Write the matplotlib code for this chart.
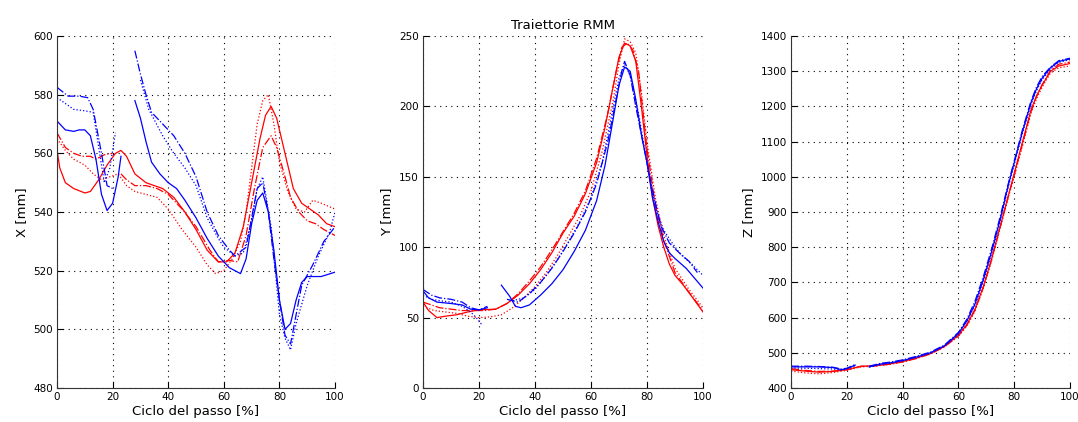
import numpy as np
import matplotlib
matplotlib.use('Agg')
import matplotlib.pyplot as plt

nan = np.nan

# ---------------------------------------------------------------------------
# Dati (ciclo del passo [%], posizione [mm])
# rs = rosso continuo, rd = rosso tratto-punto, ro = rosso punteggiato
# bs = blu continuo,   bd = blu tratto-punto,   bo = blu punteggiato
# ---------------------------------------------------------------------------
X_rs_t = [0, 1, 3, 6, 10, 12, 15, 18, 21, 23, 25, 28, 32, 38, 42, 46, 50, 54, 58, 61, 64, 67, 70, 73, 75, 77, 79, 82, 85, 88, 91, 94, 97, 100]
X_rs = [561, 555, 550, 548, 546.5, 547, 551, 556, 560, 561, 559, 553, 550, 548, 545, 540, 534, 527, 523, 523, 526, 535, 550, 565, 573, 576, 572, 560, 548, 543, 541, 539, 536, 535]
X_rd_t = [0, 3, 6, 9, 12, 14, 17, 20, 21, 23, 25, 28, 32, 36, 40, 45, 50, 55, 58, 62, 65, 68, 71, 74, 77, 79, 82, 84, 87, 90, 93, 96, 98, 100]
X_rd = [567, 562, 560, 559, 559, 558, 559.5, 560, nan, 553, 551, 549, 549, 548, 546, 541, 535, 527, 523, 523.5, 523, 532, 548, 562, 566, 562, 552, 545, 540, 537, 536, 534, 533, 532]
X_ro_t = [0, 3, 6, 10, 13, 16, 19, 22, 25, 28, 32, 36, 40, 45, 50, 54, 57, 60, 63, 66, 68, 70, 72, 74, 76, 78, 80, 83, 86, 89, 92, 95, 100]
X_ro = [565, 561, 558, 556, 553, 551, 552, 553, 549, 547, 546, 545, 541, 534, 528, 522, 519, 520, 524, 530, 540, 555, 570, 578, 580, 570, 557, 547, 541, 540, 544, 543, 541]
X_bs_t = [0, 3, 6, 8, 10, 12, 14, 16, 18, 20, 22, 23, 25, 28, 30, 32, 34, 37, 40, 43, 46, 50, 54, 58, 62, 66, 68, 70, 72, 74, 76, 78, 80, 82, 84, 86, 88, 90, 95, 100]
X_bs = [571, 568, 567.5, 568, 568, 566, 558, 546, 540.5, 543, 552, 559, nan, 578, 572, 564, 557, 553, 550, 548, 544, 538, 531, 525, 521, 519, 524, 536, 544, 546.5, 540, 527, 510, 500, 502, 510, 516, 518, 518, 519.5]
X_bd_t = [0, 2, 4, 8, 11, 13, 15, 16, 18, 20, 24, 28, 30, 32, 34, 38, 42, 46, 50, 54, 58, 62, 64, 68, 70, 72, 74, 76, 78, 80, 82, 84, 86, 88, 92, 96, 100]
X_bd = [582.5, 581, 579.5, 579.5, 579, 575, 565, 560, 549, 548, nan, 595, 587, 580, 574, 570, 566, 560, 552, 540, 532, 527, 525, 528, 538, 548, 550, 540, 524, 510, 498, 495, 505, 515, 522, 530, 535]
X_bo_t = [0, 3, 6, 10, 13, 15, 17, 19, 21, 25, 30, 33, 38, 42, 46, 50, 54, 58, 60, 64, 67, 70, 72, 74, 77, 80, 82, 84, 86, 90, 94, 98, 100]
X_bo = [579, 577, 575, 574.5, 574, 562, 550, 555, 567, nan, 585, 575, 566, 560, 555, 549, 538, 531, 528, 525, 526, 537, 548, 552, 535, 505, 497, 493, 502, 515, 525, 533, 540]

Y_rs_t = [0, 2, 5, 8, 12, 16, 20, 26, 30, 34, 38, 42, 46, 50, 54, 58, 62, 65, 68, 70, 72, 74, 76, 78, 80, 82, 84, 86, 88, 90, 93, 96, 100]
Y_rs = [61, 55, 50, 51, 52, 54, 55.5, 56, 60, 66, 74, 84, 96, 110, 122, 138, 160, 185, 215, 235, 245, 243, 232, 200, 165, 135, 115, 100, 88, 80, 73, 65, 54]
Y_rd_t = [0, 3, 6, 10, 14, 18, 22, 26, 30, 34, 38, 42, 46, 50, 54, 58, 62, 66, 69, 71, 73, 75, 77, 80, 83, 86, 90, 95, 100]
Y_rd = [61, 59, 57, 56, 55, 55, 55, 56, 60, 67, 76, 86, 98, 111, 124, 140, 163, 195, 225, 242, 245, 240, 225, 170, 130, 105, 82, 68, 55]
Y_ro_t = [0, 4, 8, 12, 16, 20, 24, 28, 32, 36, 40, 44, 48, 52, 56, 60, 64, 68, 70, 72, 74, 76, 78, 80, 83, 86, 90, 95, 100]
Y_ro = [58, 55, 54, 53, 51, 50, 50.5, 52, 57, 64, 72, 82, 94, 108, 122, 140, 168, 205, 230, 248, 246, 238, 210, 175, 135, 108, 85, 70, 57]
Y_bs_t = [0, 2, 5, 10, 14, 17, 20, 23, 25, 28, 31, 33, 35, 38, 42, 46, 50, 54, 58, 62, 65, 68, 70, 72, 74, 76, 78, 80, 82, 84, 86, 88, 90, 94, 97, 100]
Y_bs = [69, 64, 61, 60, 59, 56, 55.5, 57, nan, 73, 65, 58, 57, 59, 66, 74, 84, 97, 112, 133, 158, 192, 215, 228, 225, 205, 180, 160, 135, 118, 104, 96, 92, 85, 78, 71]
Y_bd_t = [0, 3, 6, 10, 14, 17, 20, 23, 26, 30, 34, 38, 42, 46, 50, 54, 58, 62, 66, 69, 71, 72, 74, 76, 79, 82, 85, 88, 91, 95, 98]
Y_bd = [70, 66, 64, 63, 61, 57, 55.5, 58, nan, 63, 61, 67, 75, 85, 97, 110, 125, 145, 175, 205, 225, 232, 222, 200, 170, 140, 115, 103, 97, 90, 82]
Y_bo_t = [0, 3, 6, 10, 14, 17, 19, 21, 26, 32, 36, 40, 44, 48, 52, 56, 60, 64, 67, 70, 72, 74, 77, 80, 83, 86, 89, 92, 96, 100]
Y_bo = [66, 63, 62, 61, 58, 54, 50, 45, nan, 62, 64, 70, 80, 91, 104, 118, 135, 160, 190, 220, 230, 222, 195, 160, 128, 112, 103, 95, 88, 80]

Z_rs_t = [0, 5, 10, 15, 20, 25, 30, 35, 40, 45, 50, 55, 60, 63, 66, 69, 72, 75, 78, 80, 83, 86, 88, 90, 93, 96, 100]
Z_rs = [452, 448, 445, 447, 452, 462, 463, 468, 475, 485, 498, 518, 550, 580, 625, 690, 770, 860, 950, 1010, 1100, 1190, 1230, 1260, 1300, 1315, 1322]
Z_rd_t = [0, 5, 10, 15, 20, 25, 30, 35, 40, 45, 50, 55, 60, 63, 66, 69, 72, 75, 78, 80, 83, 86, 88, 90, 93, 96, 100]
Z_rd = [455, 450, 447, 448, 452, 461, 463, 467, 474, 484, 497, 517, 548, 578, 622, 688, 768, 858, 948, 1005, 1095, 1185, 1228, 1262, 1302, 1320, 1326]
Z_ro_t = [0, 5, 10, 15, 20, 25, 30, 35, 40, 45, 50, 55, 60, 63, 66, 69, 72, 75, 78, 80, 83, 86, 88, 90, 93, 96, 100]
Z_ro = [448, 443, 440, 444, 450, 460, 462, 467, 474, 484, 497, 517, 547, 575, 620, 685, 765, 855, 945, 1000, 1090, 1180, 1222, 1255, 1295, 1310, 1315]
Z_bs_t = [0, 5, 10, 15, 18, 20, 23, 25, 28, 32, 36, 40, 45, 50, 55, 60, 63, 66, 69, 72, 75, 78, 80, 83, 86, 88, 90, 93, 96, 100]
Z_bs = [460, 460, 460, 458, 452, 455, 465, nan, 460, 468, 472, 478, 488, 500, 520, 555, 590, 640, 710, 790, 880, 980, 1040, 1130, 1210, 1250, 1280, 1310, 1328, 1335]
Z_bd_t = [0, 5, 10, 15, 18, 20, 23, 25, 28, 32, 36, 40, 45, 50, 55, 60, 63, 66, 69, 72, 75, 78, 80, 83, 86, 88, 90, 93, 96, 100]
Z_bd = [462, 462, 461, 459, 454, 456, 467, nan, 462, 470, 474, 480, 490, 502, 522, 558, 595, 648, 718, 798, 888, 985, 1045, 1135, 1215, 1255, 1285, 1312, 1330, 1337]
Z_bo_t = [0, 5, 10, 15, 18, 20, 23, 25, 28, 32, 36, 40, 45, 50, 55, 60, 63, 66, 69, 72, 75, 78, 80, 83, 86, 88, 90, 93, 96, 100]
Z_bo = [457, 456, 455, 454, 451, 454, 463, nan, 459, 466, 471, 477, 487, 499, 519, 553, 588, 636, 705, 785, 875, 975, 1035, 1125, 1205, 1245, 1276, 1306, 1325, 1333]

panels = [
    ("X [mm]", (480, 600), np.arange(480, 601, 20),
     [(X_rs_t, X_rs, 'r', '-'), (X_rd_t, X_rd, 'r', '-.'), (X_ro_t, X_ro, 'r', ':'),
      (X_bs_t, X_bs, 'b', '-'), (X_bd_t, X_bd, 'b', '-.'), (X_bo_t, X_bo, 'b', ':')]),
    ("Y [mm]", (0, 250), np.arange(0, 251, 50),
     [(Y_rs_t, Y_rs, 'r', '-'), (Y_rd_t, Y_rd, 'r', '-.'), (Y_ro_t, Y_ro, 'r', ':'),
      (Y_bs_t, Y_bs, 'b', '-'), (Y_bd_t, Y_bd, 'b', '-.'), (Y_bo_t, Y_bo, 'b', ':')]),
    ("Z [mm]", (400, 1400), np.arange(400, 1401, 100),
     [(Z_rs_t, Z_rs, 'r', '-'), (Z_rd_t, Z_rd, 'r', '-.'), (Z_ro_t, Z_ro, 'r', ':'),
      (Z_bs_t, Z_bs, 'b', '-'), (Z_bd_t, Z_bd, 'b', '-.'), (Z_bo_t, Z_bo, 'b', ':')]),
]

fig = plt.figure(figsize=(10.78, 4.22), dpi=100)
lefts = [0.0529, 0.3924, 0.7338]
widths = [0.2579, 0.2597, 0.2588]

for i, (ylabel, ylim, yticks, series) in enumerate(panels):
    ax = fig.add_axes([lefts[i], 0.0806, widths[i], 0.834])
    for t, v, c, ls in series:
        ax.plot(t, v, color=c, linestyle=ls, linewidth=0.9)
    ax.set_xlim(0, 100)
    ax.set_ylim(*ylim)
    ax.set_xticks(np.arange(0, 101, 20))
    ax.set_yticks(yticks)
    ax.grid(True, color='black', linestyle=(0, (1, 4)), linewidth=0.8)
    for s in ['top', 'right']:
        ax.spines[s].set_visible(False)
    for s in ['left', 'bottom']:
        ax.spines[s].set_color('#333333')
        ax.spines[s].set_linewidth(0.8)
    ax.tick_params(direction='in', length=4, width=0.8, labelsize=7.5, pad=3)
    ax.set_xlabel("Ciclo del passo [%]", fontsize=9.5, labelpad=2)
    ax.set_ylabel(ylabel, fontsize=9.5, labelpad=4)
    if i == 1:
        ax.set_title("Traiettorie RMM", fontsize=9.5, pad=5)

fig.savefig("out.png", dpi=100)
